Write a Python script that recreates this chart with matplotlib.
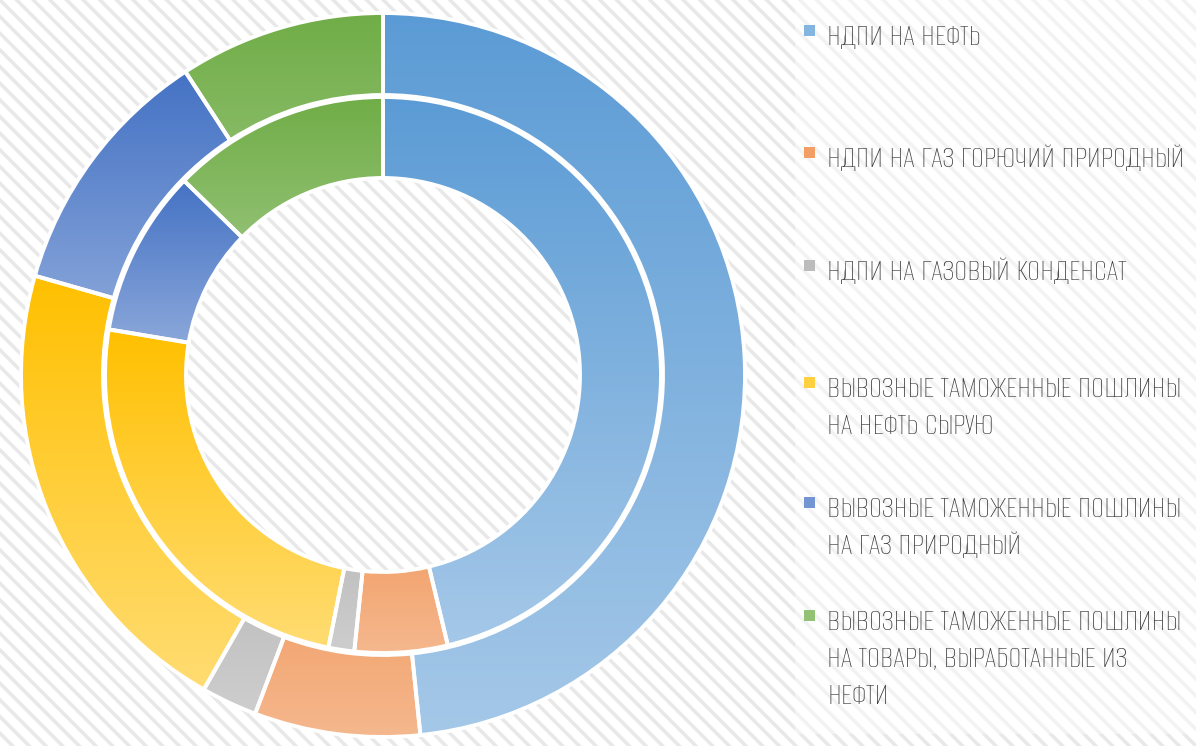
import matplotlib
matplotlib.use("Agg")
import matplotlib.pyplot as plt
import numpy as np
from matplotlib import font_manager
from matplotlib.colors import LinearSegmentedColormap, to_rgb
from matplotlib.patches import Rectangle

# Данные (доли, %), кольца читаются по часовой стрелке от 12 часов
categories = [
    "НДПИ НА НЕФТЬ",
    "НДПИ НА ГАЗ ГОРЮЧИЙ ПРИРОДНЫЙ",
    "НДПИ НА ГАЗОВЫЙ КОНДЕНСАТ",
    "ВЫВОЗНЫЕ ТАМОЖЕННЫЕ ПОШЛИНЫ\nНА НЕФТЬ СЫРУЮ",
    "ВЫВОЗНЫЕ ТАМОЖЕННЫЕ ПОШЛИНЫ\nНА ГАЗ ПРИРОДНЫЙ",
    "ВЫВОЗНЫЕ ТАМОЖЕННЫЕ ПОШЛИНЫ\nНА ТОВАРЫ, ВЫРАБОТАННЫЕ ИЗ\nНЕФТИ",
]
outer_values = [48.4, 7.4, 2.5, 21.2, 11.4, 9.2]
inner_values = [46.3, 5.4, 1.5, 24.5, 9.7, 12.7]
colors = ["#5B9BD5", "#ED7D31", "#A5A5A5", "#FFC000", "#4472C4", "#70AD47"]

plt.rcParams["hatch.linewidth"] = 2.5
plt.rcParams["hatch.color"] = "#e8e8e8"

# узкий шрифт для легенды, если есть
have = set(f.name for f in font_manager.fontManager.ttflist)
if "Alumni Sans" in have:
    font, fsize = ["Alumni Sans", "DejaVu Sans"], 23
else:
    font, fsize = ["DejaVu Sans"], 14

W, H = 1196, 746
fig = plt.figure(figsize=(W / 100, H / 100), dpi=100)
fig.patch.set_facecolor("white")

# Фон в полоску
fig.add_artist(Rectangle((0, 0), 1, 1, transform=fig.transFigure, facecolor="white",
                         edgecolor="#e8e8e8", hatch="\\\\", lw=0, zorder=-10))
# чуть более светлая подложка легенды
fig.add_artist(Rectangle((795 / W, 12 / H), 401 / W, 734 / H,
                         transform=fig.transFigure, facecolor="white",
                         edgecolor="none", alpha=0.45, zorder=-9))

R = 362
ax = fig.add_axes([(383 - 370) / W, 1 / H, 740 / W, 740 / H])
ax.set_facecolor("none")


def light(c, k):
    base = np.array(to_rgb(c))
    return base + (1 - base) * k


def ring(values, radius, width):
    wedges, _ = ax.pie(values, radius=radius, startangle=90, counterclock=False,
                       colors=colors,
                       wedgeprops=dict(width=width, edgecolor="white", linewidth=2.8))
    for w, c in zip(wedges, colors):
        verts = w.get_path().vertices
        x0, y0 = verts.min(axis=0)
        x1, y1 = verts.max(axis=0)
        cmap = LinearSegmentedColormap.from_list("g", [light(c, 0.45), to_rgb(c)])
        grad = np.linspace(0, 1, 256).reshape(-1, 1)
        im = ax.imshow(grad, extent=[x0, x1, y0, y1], origin="lower", cmap=cmap,
                       aspect="auto", zorder=1, interpolation="bilinear")
        im.set_clip_path(w)
        w.set_facecolor("none")
        w.set_zorder(2)
    return wedges


ring(outer_values, R, 82)
ring(inner_values, 278, 81)
ax.set_aspect("equal")
ax.set_xlim(-370, 370)
ax.set_ylim(-370, 370)
ax.axis("off")

# Легенда: базовая линия первой строки каждого пункта (пиксели от верха)
baselines = [45, 167, 280, 397, 517, 630]
pitch = 37
for lab, c, b in zip(categories, colors, baselines):
    fig.add_artist(Rectangle((804 / W, 1 - (b - 9) / H), 11 / W, 11 / H,
                             transform=fig.transFigure, facecolor=light(c, 0.25),
                             edgecolor="none"))
    for i, line in enumerate(lab.split("\n")):
        fig.text(827 / W, 1 - (b + i * pitch) / H, line, family=font, fontsize=fsize,
                 color="#363636", va="baseline", ha="left")

fig.savefig("out.png", dpi=100)
